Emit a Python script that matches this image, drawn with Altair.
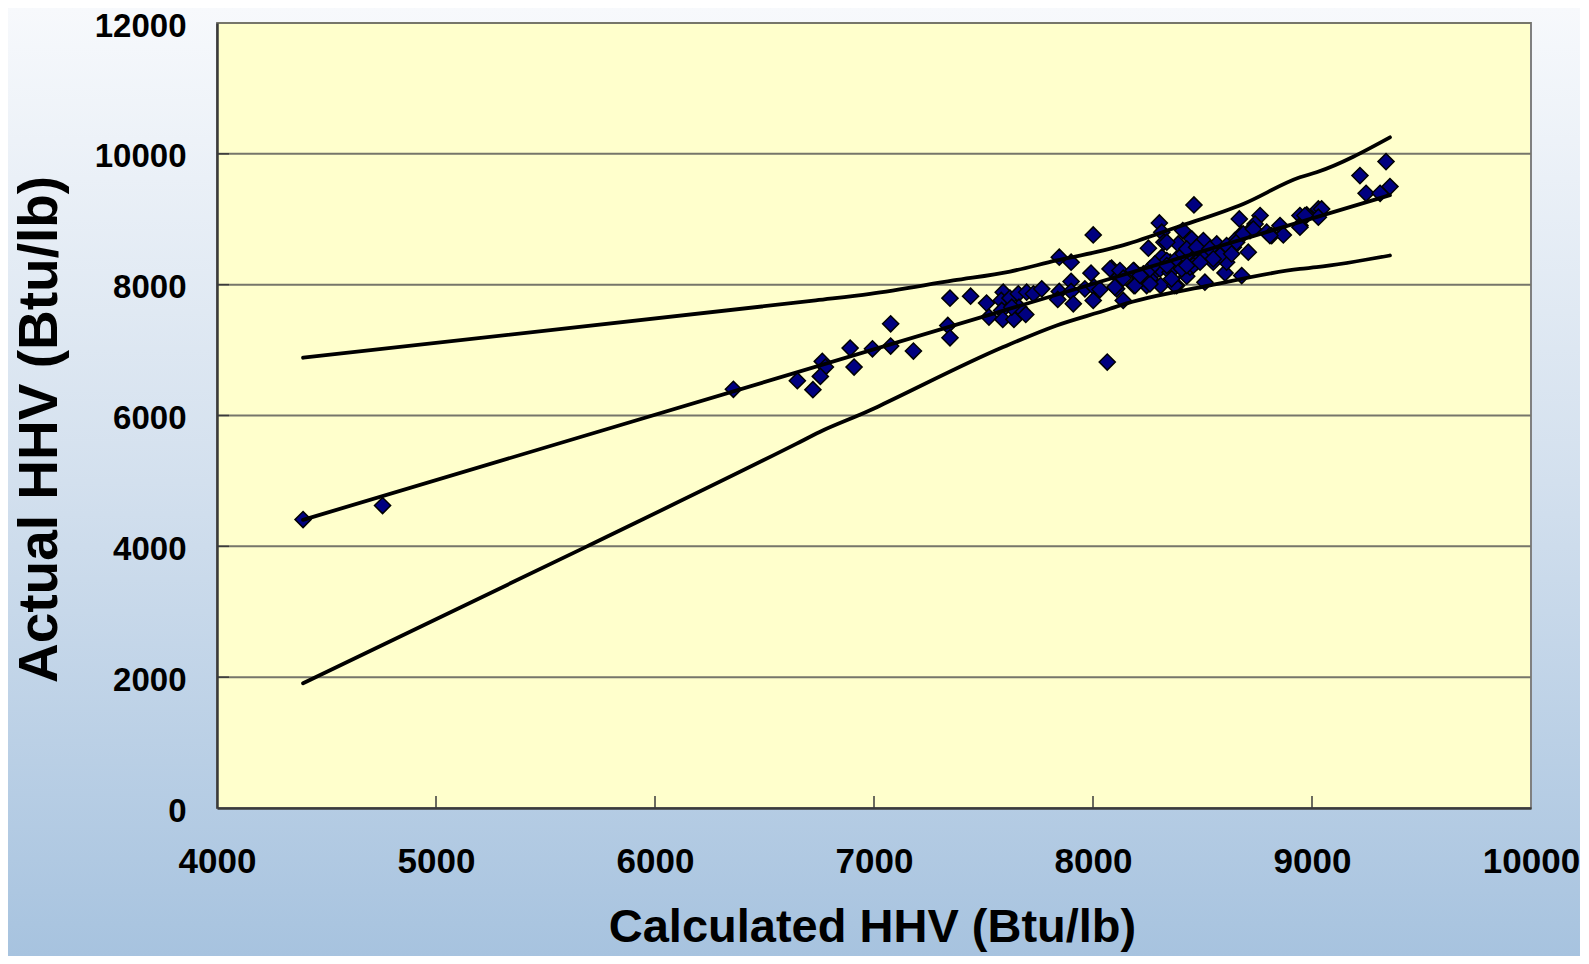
import altair as alt
import pandas as pd

# ---- data ----
calc_hhv = [4393, 4756, 6358, 6650, 6721, 6764, 6778, 6755, 6891, 6909, 6993,
            7076, 7076, 7180, 7347, 7337, 7347, 7441, 7514, 7525,
            7590, 7581, 7621, 7659, 7697, 7728, 7766, 7583, 7588, 7639, 7662, 7693, 7629,
            7846, 7900, 7846, 7839, 7900, 7900, 7910, 8001, 7991, 7963, 8005, 8032, 8001, 8065, 8085, 8108, 8116,
            8461, 8303, 8314, 8410, 8253, 8324, 8389, 8451, 8504, 8668, 8763, 8740, 8717, 8679, 8648, 8709,
            8793, 8816, 8854, 8869, 8945, 8976, 8945, 9029,
            8078, 8123, 8138, 8100, 8187, 8187, 8245, 8309, 8275, 8138, 8382, 8428, 8511, 8603, 8679,
            8352, 8389, 8443, 8473, 8534, 8565, 8603, 8641, 8610, 8549, 8306, 8352, 8230, 8260, 8428, 8489, 8519,
            9338, 9219, 9247, 9311, 9356, 9044, 9029, 8968,
            8192, 8260, 8374, 8808, 8945,
            8314, 8337, 8382, 8412, 8504, 8610, 8656, 8686, 8732, 8337, 8428, 8473, 8534, 8580, 8633,
            8260, 8283, 8337, 8405, 8458, 8489, 8549, 8184, 8215, 8359, 8428]
actual_hhv = [4409, 4623, 6400, 6532, 6394, 6827, 6740, 6598, 7030, 6740, 7020,
              7402, 7061, 6985, 7794, 7377, 7188, 7824, 7718, 7504,
              7885, 7758, 7794, 7860, 7885, 7860, 7936, 7606, 7469, 7469, 7656, 7545, 7656,
              8420, 8344, 7896, 7774, 8049, 7896, 7707, 8760, 8176, 7936, 7962, 7926, 7758, 6817, 8252, 7936, 8115,
              9219, 8944, 8802, 8827, 8557, 8649, 8623, 8699, 8659, 9005, 9056, 8928, 8827, 8776, 8674, 8496,
              8802, 8751, 8903, 8760, 9056, 9066, 8903, 9157,
              8241, 8216, 8099, 7962, 8216, 7987, 7987, 7987, 8165, 7758, 7987, 8130, 8038, 8180, 8140,
              8344, 8384, 8267, 8344, 8446, 8623, 8455, 8573, 8344, 8344, 8241, 8191, 8165, 8089, 8455, 8547, 8446,
              9881, 9667, 9397, 9397, 9499, 9158, 9031, 9056,
              7987, 8012, 7987, 8751, 8878,
              8420, 8369, 8394, 8471, 8674, 8598, 8649, 8776, 8852, 8649, 8547, 8573, 8547, 8446, 8471,
              8241, 8318, 8293, 8241, 8293, 8344, 8394, 8216, 8140, 8089, 8293]

fit_x = [4393, 9356]
fit_y = [4405, 9368]

upper_x = [4393, 6734, 6982, 7362, 7621, 7834, 8017, 8123, 8382, 8686, 8945, 9021, 9356]
upper_y = [6883, 7759, 7860, 8064, 8201, 8370, 8500, 8590, 8878, 9234, 9641, 9718, 10252]

lower_x = [4393, 5685, 6647, 6752, 6982, 7027, 7590, 7834, 8078, 8123, 8534, 8945, 9021, 9356]
lower_y = [1906, 3992, 5570, 5748, 6079, 6150, 7046, 7377, 7631, 7682, 7988, 8241, 8267, 8446]

x_tick_values = [4000, 5000, 6000, 7000, 8000, 9000, 10000]
y_tick_values = [0, 2000, 4000, 6000, 8000, 10000, 12000]
grid_values = [2000, 4000, 6000, 8000, 10000, 12000]
inner_x_ticks = [5000, 6000, 7000, 8000, 9000]
inner_y_ticks = [2000, 4000, 6000, 8000, 10000]

# ---- layout ----
W, H = 1314, 785
PAD_L, PAD_T, PAD_R, PAD_B = 209, 15, 49, 148

X_TITLE = "Calculated HHV (Btu/lb)"
Y_TITLE = "Actual HHV (Btu/lb)"
FONT = "Liberation Sans"

x_scale = alt.Scale(domain=[4000, 10000], nice=False, zero=False)
y_scale = alt.Scale(domain=[0, 12000], nice=False, zero=False)

x_axis = alt.Axis(values=x_tick_values, format="d", grid=False, ticks=False,
                  domainColor="#3a3a3a", domainWidth=2.5,
                  labelFont=FONT, labelFontSize=35, labelFontWeight="bold",
                  labelColor="black", labelPadding=36, labelFlush=False,
                  title=X_TITLE, titleFont=FONT, titleFontSize=47,
                  titleFontWeight="bold", titleColor="black",
                  titleX=W / 2 - 2, titleY=133, titleAlign="center",
                  titleBaseline="alphabetic", zindex=1)
y_axis = alt.Axis(values=y_tick_values, format="d", grid=False, ticks=False,
                  domainColor="#3a3a3a", domainWidth=2.5,
                  labelFont=FONT, labelFontSize=33, labelFontWeight="bold",
                  labelColor="black", labelPadding=31, labelFlush=False,
                  labelOffset=3,
                  title=Y_TITLE, titleFont=FONT, titleFontSize=55,
                  titleFontWeight="bold", titleColor="black",
                  titleAngle=270, titleX=-178, titleY=406, titleAlign="center",
                  titleBaseline="middle", zindex=1)

one = pd.DataFrame({"a": [0]})

background = alt.Chart(one).mark_rect(
    fill=alt.Gradient(gradient="linear", x1=0, y1=0, x2=0, y2=1,
                      stops=[alt.GradientStop(color="#F7F9FC", offset=0),
                             alt.GradientStop(color="#D3E0EE", offset=0.5),
                             alt.GradientStop(color="#A7C3DF", offset=1)])
).encode(x=alt.value(-PAD_L), x2=alt.value(W + PAD_R),
         y=alt.value(-PAD_T), y2=alt.value(H + PAD_B))

plot_bg = alt.Chart(one).mark_rect(fill="#FFFFCC", stroke="#808080", strokeWidth=2).encode(
    x=alt.value(0), x2=alt.value(W), y=alt.value(0), y2=alt.value(H))

grid = alt.Chart(pd.DataFrame({"g": grid_values})).mark_rule(
    color="#76766a", strokeWidth=2).encode(
    y=alt.Y("g:Q", scale=y_scale, axis=y_axis), x=alt.value(0), x2=alt.value(W))

xt = alt.Chart(pd.DataFrame({"t": inner_x_ticks})).mark_rule(
    color="#3a3a3a", strokeWidth=1.5).encode(
    x=alt.X("t:Q", scale=x_scale, axis=x_axis), y=alt.value(H - 12), y2=alt.value(H))

yt = alt.Chart(pd.DataFrame({"t": inner_y_ticks})).mark_rule(
    color="#3a3a3a", strokeWidth=1.5).encode(
    y=alt.Y("t:Q", scale=y_scale, axis=y_axis), x=alt.value(0), x2=alt.value(12))

pts = alt.Chart(pd.DataFrame({"calc": calc_hhv, "actual": actual_hhv})).mark_point(
    shape="diamond", filled=True, fill="#000080", stroke="black", strokeWidth=1.5,
    size=260, opacity=1).encode(
    x=alt.X("calc:Q", scale=x_scale, axis=x_axis),
    y=alt.Y("actual:Q", scale=y_scale, axis=y_axis))

lines_df = pd.concat([
    pd.DataFrame({"lx": upper_x, "ly": upper_y, "band": "upper"}),
    pd.DataFrame({"lx": fit_x, "ly": fit_y, "band": "fit"}),
    pd.DataFrame({"lx": lower_x, "ly": lower_y, "band": "lower"}),
])
lines = alt.Chart(lines_df).mark_line(color="black", strokeWidth=3.8, strokeCap="round",
                                      interpolate="monotone").encode(
    x=alt.X("lx:Q", scale=x_scale, axis=x_axis),
    y=alt.Y("ly:Q", scale=y_scale, axis=y_axis),
    detail="band:N")

chart = alt.layer(background, plot_bg, grid, xt, yt, pts, lines).properties(
    width=W, height=H,
    autosize=alt.AutoSizeParams(type="none"),
    padding={"left": PAD_L, "top": PAD_T, "right": PAD_R, "bottom": PAD_B},
).configure_view(stroke=None)

chart.save("out.html", embed_options={"renderer": "svg", "actions": False})
